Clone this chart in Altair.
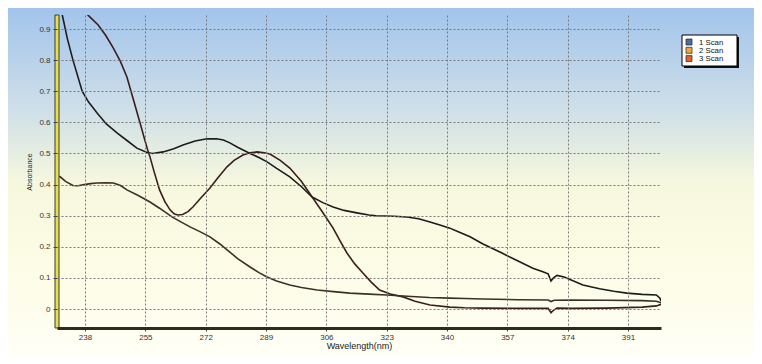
import altair as alt
import pandas as pd

# ---- data ----
scan1_nm = [230.5, 231.5, 233, 234.6, 237.2, 239, 241.4, 244, 247, 250, 252.6, 255.5, 257, 260, 263, 265.6,
            269, 272.4, 275, 277, 278.8, 281, 284.5, 287, 289.3, 292, 295.7, 299, 302, 305, 307.9, 311,
            314.6, 318, 320, 325, 328.7, 332, 335.2, 338, 340.8, 343, 346.5, 350, 354.9, 359, 364.2, 367,
            368.5, 369.3, 370, 371, 373, 378.3, 383, 387, 390.7, 395, 399, 400, 400.3]
scan1_abs = [1.10, 0.95, 0.87, 0.80, 0.70, 0.665, 0.63, 0.595, 0.566, 0.54, 0.517, 0.503, 0.50, 0.505, 0.515,
             0.527, 0.54, 0.547, 0.547, 0.543, 0.534, 0.52, 0.50, 0.487, 0.473, 0.452, 0.425, 0.393, 0.36,
             0.342, 0.328, 0.317, 0.309, 0.302, 0.300, 0.298, 0.296, 0.29, 0.28, 0.27, 0.26, 0.249, 0.232,
             0.21, 0.183, 0.16, 0.131, 0.12, 0.113, 0.09, 0.10, 0.108, 0.103, 0.077, 0.065, 0.057, 0.051,
             0.047, 0.045, 0.035, 0.025]

scan2_nm = [237.5, 238.8, 241.7, 243.8, 245.9, 248, 249.8, 251.7, 253.5, 255.5, 256.3, 257.5, 259, 260.5, 262,
            263.2, 264.2, 265.5, 267, 268.4, 270.5, 273.2, 275.5, 278, 280, 282.5, 284.5, 286.5, 288.5, 290.1,
            293, 295.7, 299, 302, 305, 307.9, 309.9, 311.8, 314, 316.3, 318.5, 321, 324, 327.6, 331, 335.2,
            340.8, 345, 350, 360, 368.5, 369.3, 370, 371, 375, 385, 395, 399, 400.3]
scan2_abs = [1.0, 0.945, 0.913, 0.88, 0.84, 0.795, 0.746, 0.67, 0.598, 0.517, 0.489, 0.44, 0.383, 0.345, 0.318,
             0.305, 0.302, 0.304, 0.313, 0.328, 0.355, 0.389, 0.423, 0.457, 0.478, 0.495, 0.502, 0.505, 0.502,
             0.498, 0.478, 0.453, 0.41, 0.36, 0.31, 0.26, 0.218, 0.18, 0.145, 0.116, 0.088, 0.061, 0.048,
             0.039, 0.025, 0.013, 0.006, 0.004, 0.003, 0.002, 0.002, -0.012, -0.004, 0.003, 0.002, 0.003,
             0.006, 0.01, 0.015]

scan3_nm = [230.1, 231, 232.5, 234.6, 236, 237.4, 239.5, 241.4, 244, 246, 248, 249.8, 253, 256.3, 259, 262.5,
            265, 267.6, 270.5, 273.2, 276, 278.8, 281, 284.5, 287, 289.3, 292, 295.7, 299, 303.4, 308, 312.6,
            318, 323, 330, 335, 340.8, 345, 350, 360, 368.5, 369.3, 370.2, 375, 385, 395, 399, 400.3]
scan3_abs = [0.428, 0.425, 0.41, 0.397, 0.396, 0.399, 0.403, 0.405, 0.406, 0.405, 0.397, 0.383, 0.365, 0.344,
             0.324, 0.296, 0.28, 0.264, 0.248, 0.232, 0.209, 0.183, 0.162, 0.135, 0.117, 0.103, 0.09, 0.077,
             0.069, 0.061, 0.056, 0.051, 0.048, 0.045, 0.04, 0.037, 0.035, 0.034, 0.032, 0.03, 0.029, 0.024,
             0.028, 0.029, 0.028, 0.027, 0.025, 0.02]

series_names = ["1 Scan", "2 Scan", "3 Scan"]
legend_colors = ["#4a6ea8", "#f2a73a", "#e2622a"]
line_colors = ["#1c1c1c", "#3a1e1e", "#3b3027"]
x_ticks = [238, 255, 272, 289, 306, 323, 340, 357, 374, 391]
y_ticks = [0, 0.1, 0.2, 0.3, 0.4, 0.5, 0.6, 0.7, 0.8, 0.9]

rows = []
for name, xs, ys in zip(series_names, [scan1_nm, scan2_nm, scan3_nm], [scan1_abs, scan2_abs, scan3_abs]):
    for i, (a, b) in enumerate(zip(xs, ys)):
        rows.append({"scan": name, "nm": a, "abs": b, "order": i})
df = pd.DataFrame(rows)

W, H = 604, 313
PL, PT, PR, PB = 49, 7, 93, 28

xscale = alt.Scale(domain=[230.1, 400.3], nice=False, zero=False)
yscale = alt.Scale(domain=[-0.061, 0.945], nice=False, zero=False)

grad = alt.LinearGradient(
    gradient="linear", x1=0, x2=0, y1=0, y2=1,
    stops=[alt.GradientStop(offset=0, color="#a2c4ec"),
           alt.GradientStop(offset=0.3, color="#d0e0e8"),
           alt.GradientStop(offset=0.5, color="#f6f8de"),
           alt.GradientStop(offset=0.75, color="#fdfce6"),
           alt.GradientStop(offset=1, color="#fffff6")])

one = pd.DataFrame({"d": [0]})

bg = alt.Chart(one).mark_rect(color=grad).encode(
    x=alt.value(-PL), x2=alt.value(W + PR), y=alt.value(-PT), y2=alt.value(H + PB))

leftbar = alt.Chart(one).mark_rect(
    fill="#e6de5a", stroke="#3e3e1c", strokeWidth=1).encode(
    x=alt.value(-2), x2=alt.value(2), y=alt.value(0), y2=alt.value(H))

font = "Liberation Sans"

lines = alt.Chart(df).mark_line(clip=True, strokeWidth=1.6).encode(
    x=alt.X("nm:Q", scale=xscale,
            axis=alt.Axis(values=x_ticks, title="Wavelength(nm)", grid=True,
                          gridDash=[2, 2], gridColor="#7a7a7a", gridWidth=1,
                          domainColor="#2b2b1e", domainWidth=3, tickColor="#444",
                          tickSize=3, labelFontSize=8, labelColor="#333", labelFont=font,
                          labelPadding=2, titleFontSize=9, titleFont=font, titleFontWeight="normal",
                          titleColor="#222", titlePadding=0, zindex=1, labelOverlap=False)),
    y=alt.Y("abs:Q", scale=yscale,
            axis=alt.Axis(values=y_ticks, tickCount=10, format="~g", title="Absorbance", grid=True,
                          gridDash=[2, 2], gridColor="#7a7a7a", gridWidth=1,
                          domain=False, tickColor="#444", tickSize=4, labelOverlap=False,
                          labelFontSize=8, labelColor="#333", labelFont=font, labelPadding=3,
                          titleFontSize=7, titleFont=font, titleFontWeight="normal",
                          titleColor="#222", titlePadding=6, zindex=1)),
    stroke=alt.Stroke("scan:N", scale=alt.Scale(domain=series_names, range=line_colors), legend=None),
    order="order:Q",
    detail="scan:N",
)

# hand-built legend box (box, shadow, swatches, labels)
LX, LY = 625, 20
shadow = alt.Chart(one).mark_rect(fill="#111").encode(
    x=alt.value(LX + 2), x2=alt.value(LX + 57), y=alt.value(LY + 2), y2=alt.value(LY + 33))
box = alt.Chart(one).mark_rect(fill="white", stroke="#000", strokeWidth=1).encode(
    x=alt.value(LX), x2=alt.value(LX + 55), y=alt.value(LY), y2=alt.value(LY + 31))
legend_layers = [shadow, box]
for k, (name, col) in enumerate(zip(series_names, legend_colors)):
    yk = LY + 7 + k * 8.3
    legend_layers.append(
        alt.Chart(pd.DataFrame({"entry": [name]})).mark_square(
            size=36, filled=True, fill=col, stroke="#222", strokeWidth=0.7, opacity=1).encode(
            x=alt.value(LX + 7), y=alt.value(yk)))
    legend_layers.append(
        alt.Chart(pd.DataFrame({"entry": [name]})).mark_text(
            align="left", baseline="middle", font=font, fontSize=7.8, color="#111").encode(
            text="entry:N", x=alt.value(LX + 17), y=alt.value(yk + 0.5)))

chart = alt.layer(bg, lines, leftbar, *legend_layers).properties(
    width=W, height=H,
    autosize=alt.AutoSizeParams(type="none"),
    padding={"left": PL, "top": PT, "right": PR, "bottom": PB},
    background="#fbfbe8",
).configure_view(stroke="#7b8794", strokeWidth=1)

chart.save("out.html", embed_options={"renderer": "svg", "actions": False})
